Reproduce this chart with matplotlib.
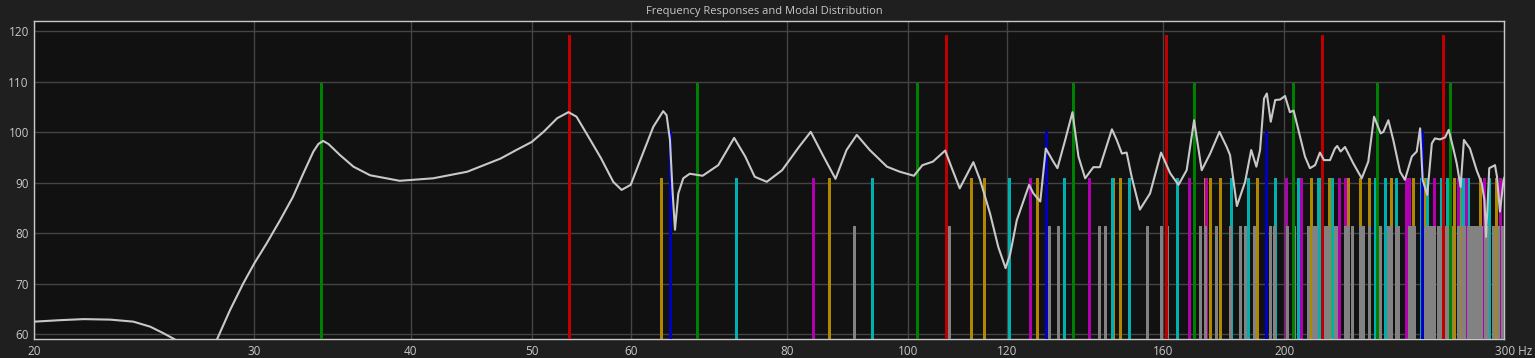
import numpy as np
import matplotlib
matplotlib.use("Agg")
import matplotlib.pyplot as plt
import matplotlib.transforms as mtransforms
from matplotlib.ticker import FixedLocator, NullLocator

# frequency response (Hz, dB)
resp_freq = [20.0, 21.0, 21.9, 23.0, 24.0, 24.76, 25.37, 25.9, 27.0, 28.0, 28.68, 29.39, 30.0,
             30.68, 31.45, 32.2, 32.83, 33.44, 33.75, 34.04, 34.38, 35.12, 36.0, 37.12, 39.2,
             41.7, 44.4, 47.2, 48.6, 50.0, 51.1, 52.4, 53.5, 54.3, 55.3, 56.8, 58.1, 59.0,
             60.0, 61.0, 62.55, 63.7, 64.1, 64.5, 64.8, 65.1, 65.5, 66.1, 66.9, 68.5, 70.5,
             72.6, 74.1, 75.4, 77.1, 79.3, 81.8, 83.6, 85.6, 87.5, 89.3, 91.0, 93.2, 96.2,
             98.5, 101.1, 102.7, 104.7, 107.1, 108.3, 110.0, 112.8, 114.2, 116.3, 118.1,
             119.7, 120.7, 122.2, 125.0, 126.0, 127.6, 128.2, 128.9, 130.7, 131.7, 133.6,
             135.4, 136.9, 138.6, 140.7, 142.4, 145.6, 146.9, 148.3, 149.6, 151.0, 153.3,
             156.2, 159.4, 162.1, 164.6, 167.1, 169.4, 171.8, 174.5, 177.5, 179.9, 181.0,
             183.3, 186.1, 188.2, 190.0, 191.3, 192.7, 193.7, 195.1, 196.7, 198.5, 200.3,
             202.1, 203.5, 205.3, 207.8, 209.7, 211.7, 213.6, 215.2, 217.6, 219.6, 220.5,
             221.9, 223.7, 227.1, 230.7, 233.5, 236.0, 238.9, 240.1, 242.3, 244.5, 247.6,
             249.8, 253.0, 255.3, 256.9, 258.1, 260.3, 262.5, 264.0, 266.5, 269.0, 270.8,
             273.1, 274.8, 276.8, 278.5, 281.6, 285.1, 287.8, 289.2, 290.1, 291.8, 294.9,
             296.0, 297.6, 299.6, 300.0]
resp_db = [62.5, 62.8, 63.0, 62.9, 62.5, 61.5, 60.2, 59.0, 55.0, 59.0, 64.8, 70.1, 74.1,
           78.0, 82.6, 87.2, 91.9, 96.2, 97.7, 98.3, 97.7, 95.5, 93.2, 91.5, 90.4,
           90.9, 92.2, 94.8, 96.5, 98.1, 100.1, 102.8, 104.0, 103.1, 99.8, 94.9, 90.2, 88.6,
           89.6, 94.2, 101.1, 104.2, 103.4, 98.5, 88.6, 80.7, 87.9, 90.9, 91.8, 91.4, 93.5,
           98.9, 95.2, 91.2, 90.2, 92.5, 97.1, 100.1, 95.2, 90.8, 96.5, 99.5, 96.5, 93.2,
           92.2, 91.4, 93.5, 94.2, 96.4, 93.2, 88.9, 94.1, 90.6, 84.0, 77.3,
           73.1, 75.8, 82.6, 89.6, 87.9, 86.3, 91.2, 96.8, 94.2, 92.9, 98.5,
           104.0, 95.2, 90.9, 93.1, 93.1, 100.6, 98.5, 95.8, 96.0, 91.2, 84.7,
           87.9, 96.0, 91.9, 89.6, 92.5, 102.4, 92.5, 95.8, 100.1, 97.1, 95.5,
           85.4, 90.2, 96.5, 93.2, 96.5, 106.7, 107.7, 102.1, 106.4, 106.5, 107.2,
           104.0, 104.3, 100.5, 95.2, 92.9, 93.5, 96.0, 94.5, 94.5, 96.8, 97.3,
           96.2, 97.1, 93.9, 90.9, 94.2, 103.1, 99.8, 100.1, 102.4, 98.5, 92.2,
           90.6, 95.2, 96.2, 100.8, 90.6, 87.6, 97.8, 98.8, 98.6, 99.0, 100.5,
           96.8, 93.9, 89.2, 98.5, 96.8, 92.5, 89.9, 86.6, 79.3, 92.9, 93.5,
           91.2, 84.3, 90.6, 91.0]

# axial modes
axial_red = [53.6, 107.2, 160.8, 214.4, 268.0]
axial_green = [33.9, 67.8, 101.7, 135.6, 169.5, 203.4, 237.3, 271.2]
axial_blue = [64.5, 129.0, 193.5, 258.0]

# tangential modes
tang_orange = [63.4, 86.4, 115.0, 145.8, 177.8, 210.3, 243.3, 276.5,
               112.4, 126.8, 147.8, 172.9, 200.6, 229.9, 260.4, 291.6,
               164.3, 174.5, 190.3, 210.3, 233.6, 259.3, 286.7,
               217.1, 224.9, 237.3, 253.7, 273.3, 295.5,
               270.1, 276.4, 286.7]
tang_cyan = [72.9, 93.6, 120.4, 150.2, 181.4, 213.4, 245.9, 278.8,
             133.4, 145.7, 164.3, 187.2, 213.0, 240.9, 270.1,
             196.5, 205.0, 218.6, 236.3, 257.2, 280.7,
             260.2, 266.8, 277.3, 291.5]
tang_magenta = [83.9, 125.1, 173.3, 223.9, 275.7,
                139.7, 167.7, 206.2, 250.2, 297.4,
                200.8, 221.2, 251.6, 288.8,
                263.5, 279.4]

# oblique modes
oblique = [90.5, 107.8, 131.8, 159.4, 189.1, 220.0, 251.7, 283.9,
           129.6, 142.3, 161.2, 184.5, 210.7, 238.8, 268.3, 298.7,
           176.5, 186.1, 200.9, 220.0, 242.4, 267.2, 293.8,
           226.4, 233.9, 245.9, 261.8, 280.8,
           277.7, 283.9, 293.8,
           143.8, 155.3, 172.8, 194.7, 219.7, 246.8, 275.4,
           171.1, 180.9, 196.2, 215.7, 238.5, 263.6, 290.6,
           208.9, 217.0, 229.9, 246.8, 266.9, 289.6,
           252.5, 259.2, 270.1, 284.6, 299.4,
           203.6, 211.9, 225.1, 242.3, 262.8, 285.8,
           223.8, 231.4, 243.5, 259.5, 278.7,
           253.9, 260.6, 271.4, 285.8,
           290.8, 296.7,
           265.7, 272.1, 282.5, 296.4,
           281.4, 287.5]

x_ticks = [20, 30, 40, 50, 60, 80, 100, 120, 160, 200, 300]
x_tick_labels = ["20", "30", "40", "50", "60", "80", "100", "120", "160", "200", "300 Hz"]
y_ticks = [60, 70, 80, 90, 100, 110, 120]

BG = "#1f1f1f"
AX_BG = "#111111"
TXT = "#c8c8c8"
plt.rcParams["font.family"] = ["Open Sans", "DejaVu Sans"]

fig = plt.figure(figsize=(15.35, 3.58), dpi=100, facecolor=BG)
ax = fig.add_axes([0.0224, 0.0522, 0.98 - 0.0224, 0.9405 - 0.0522])
ax.set_facecolor(AX_BG)

y0 = 59
bar_kw = dict(lw=2.16, antialiased=False)
ax.vlines(tang_orange, y0, 90.9, colors="#b08800", zorder=2, **bar_kw)
ax.vlines(tang_cyan, y0, 90.9, colors="#00b0b0", zorder=2, **bar_kw)
ax.vlines(tang_magenta, y0, 90.9, colors="#b000b0", zorder=2, **bar_kw)
ax.vlines(oblique, y0, 81.4, colors="#828282", zorder=3, **bar_kw)
ax.vlines(axial_blue, y0, 100.2, colors="#0000c0", zorder=4, **bar_kw)
ax.vlines(axial_green, y0, 109.8, colors="#008000", zorder=4, **bar_kw)
ax.vlines(axial_red, y0, 119.3, colors="#c00000", zorder=4, **bar_kw)

ax.plot(resp_freq, resp_db, color="#c8c8c8", lw=1.5, zorder=5)

ax.set_xscale("log")
ax.set_xlim(20, 300)
ax.set_ylim(59, 122)
ax.xaxis.set_major_locator(FixedLocator(x_ticks))
ax.xaxis.set_minor_locator(NullLocator())
ax.set_xticklabels(x_tick_labels)
ax.set_yticks(y_ticks)
ax.grid(True, color="#444444", lw=1.0, zorder=1)
ax.set_axisbelow(True)
ax.tick_params(length=0, colors=TXT, labelsize=8.5, pad=4)
last = ax.get_xticklabels()[-1]
last.set_horizontalalignment("left")
last.set_transform(last.get_transform() + mtransforms.ScaledTranslation(-9 / 100, 0, fig.dpi_scale_trans))
for s in ax.spines.values():
    s.set_color("#c8c8c8")
    s.set_linewidth(1.0)

fig.text(0.498, 0.968, "Frequency Responses and Modal Distribution", color=TXT,
         fontsize=8, ha="center", va="center")

fig.savefig("out.png", dpi=100, facecolor=BG)
